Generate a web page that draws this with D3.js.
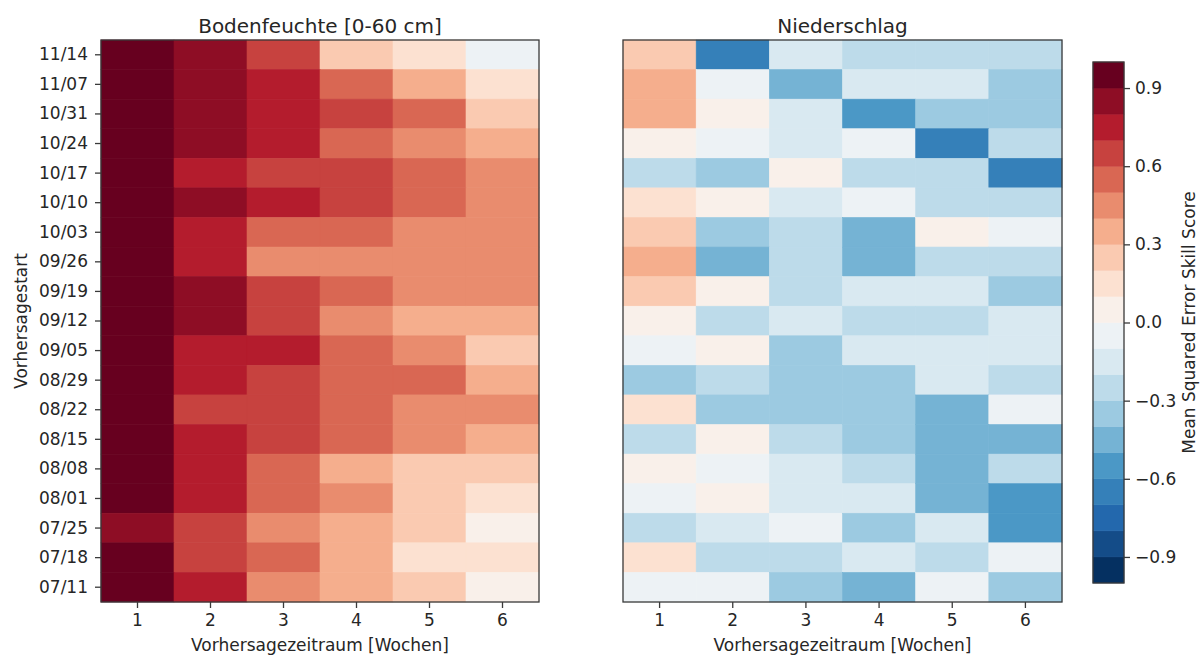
<!DOCTYPE html>
<html>
<head>
<meta charset="utf-8">
<script src="https://cdn.jsdelivr.net/npm/d3@7"></script>
<style>
  html, body { margin: 0; padding: 0; background: #fff; }
  svg text { font-family: "DejaVu Sans", sans-serif; fill: #262626; }
</style>
</head>
<body>
<svg id="chart" width="1201" height="657"></svg>
<script>
// ---------- DATA ----------
const startDates = ["11/14","11/07","10/31","10/24","10/17","10/10","10/03","09/26","09/19","09/12",
                    "09/05","08/29","08/22","08/15","08/08","08/01","07/25","07/18","07/11"];
const weeks = [1, 2, 3, 4, 5, 6];

// Bodenfeuchte [0-60 cm] – MSESS per start date (rows) and week (columns)
const soilMoisture = [
  [0.95, 0.85, 0.65, 0.25, 0.15, -0.05],
  [0.95, 0.85, 0.75, 0.55, 0.35, 0.15],
  [0.95, 0.85, 0.75, 0.65, 0.55, 0.25],
  [0.95, 0.85, 0.75, 0.55, 0.45, 0.35],
  [0.95, 0.75, 0.65, 0.65, 0.55, 0.45],
  [0.95, 0.85, 0.75, 0.65, 0.55, 0.45],
  [0.95, 0.75, 0.55, 0.55, 0.45, 0.45],
  [0.95, 0.75, 0.45, 0.45, 0.45, 0.45],
  [0.95, 0.85, 0.65, 0.55, 0.45, 0.45],
  [0.95, 0.85, 0.65, 0.45, 0.35, 0.35],
  [0.95, 0.75, 0.75, 0.55, 0.45, 0.25],
  [0.95, 0.75, 0.65, 0.55, 0.55, 0.35],
  [0.95, 0.65, 0.65, 0.55, 0.45, 0.45],
  [0.95, 0.75, 0.65, 0.55, 0.45, 0.35],
  [0.95, 0.75, 0.55, 0.35, 0.25, 0.25],
  [0.95, 0.75, 0.55, 0.45, 0.25, 0.15],
  [0.85, 0.65, 0.45, 0.35, 0.25, 0.05],
  [0.95, 0.65, 0.55, 0.35, 0.15, 0.15],
  [0.95, 0.75, 0.45, 0.35, 0.25, 0.05]
];

// Niederschlag – MSESS per start date (rows) and week (columns)
const precipitation = [
  [ 0.25, -0.65, -0.15, -0.25, -0.25, -0.25],
  [ 0.35, -0.05, -0.45, -0.15, -0.15, -0.35],
  [ 0.35,  0.05, -0.15, -0.55, -0.35, -0.35],
  [ 0.05, -0.05, -0.15, -0.05, -0.65, -0.25],
  [-0.25, -0.35,  0.05, -0.25, -0.25, -0.65],
  [ 0.15,  0.05, -0.15, -0.05, -0.25, -0.25],
  [ 0.25, -0.35, -0.25, -0.45,  0.05, -0.05],
  [ 0.35, -0.45, -0.25, -0.45, -0.25, -0.25],
  [ 0.25,  0.05, -0.25, -0.15, -0.15, -0.35],
  [ 0.05, -0.25, -0.15, -0.25, -0.25, -0.15],
  [-0.05,  0.05, -0.35, -0.15, -0.15, -0.15],
  [-0.35, -0.25, -0.35, -0.35, -0.15, -0.25],
  [ 0.15, -0.35, -0.35, -0.35, -0.45, -0.05],
  [-0.25,  0.05, -0.25, -0.35, -0.45, -0.45],
  [ 0.05, -0.05, -0.15, -0.25, -0.45, -0.25],
  [-0.05,  0.05, -0.15, -0.15, -0.45, -0.55],
  [-0.25, -0.15, -0.05, -0.35, -0.15, -0.55],
  [ 0.15, -0.25, -0.25, -0.15, -0.25, -0.05],
  [-0.05, -0.05, -0.35, -0.45, -0.05, -0.35]
];

const colorbarTicks = [0.9, 0.6, 0.3, 0.0, -0.3, -0.6, -0.9];
const panelTitles = ["Bodenfeuchte [0-60 cm]", "Niederschlag"];
const xLabel = "Vorhersagezeitraum [Wochen]";
const yLabel = "Vorhersagestart";
const cbLabel = "Mean Squared Error Skill Score";

// ---------- COLOR MAP (matplotlib RdBu_r, 20 levels) ----------
const rdbuAnchors = ['#67001f','#b2182b','#d6604d','#f4a582','#fddbc7','#f7f7f7',
                     '#d1e5f0','#92c5de','#4393c3','#2166ac','#053061'].reverse();
const baseCmap = d3.scaleLinear()
  .domain(d3.range(rdbuAnchors.length).map(i => i / (rdbuAnchors.length - 1)))
  .range(rdbuAnchors)
  .interpolate(d3.interpolateRgb);
const nLevels = 20;
const levelColors = d3.range(nLevels).map(i => baseCmap(i / (nLevels - 1)));
const color = d3.scaleQuantize().domain([-1, 1]).range(levelColors);

// ---------- LAYOUT ----------
const svg = d3.select("#chart");
const plotTop = 40, plotBottom = 602;
const panels = [
  { x0: 101, x1: 539, data: soilMoisture, title: panelTitles[0], showY: true },
  { x0: 623, x1: 1062, data: precipitation, title: panelTitles[1], showY: false }
];
const fontSize = 17;

const yScale = d3.scaleBand().domain(startDates).range([plotTop, plotBottom]).padding(0);

panels.forEach(p => {
  const x = d3.scaleBand().domain(weeks).range([p.x0, p.x1]).padding(0);
  const g = svg.append("g");

  const cells = [];
  p.data.forEach((row, ri) => row.forEach((v, ci) => cells.push({ d: startDates[ri], w: weeks[ci], v })));

  g.selectAll("rect.cell").data(cells).join("rect")
    .attr("class", "cell")
    .attr("x", d => x(d.w))
    .attr("y", d => yScale(d.d))
    .attr("width", x.bandwidth())
    .attr("height", yScale.bandwidth())
    .attr("fill", d => color(d.v))
    .attr("stroke", d => color(d.v))
    .attr("stroke-width", 0.6);

  // frame
  g.append("rect")
    .attr("x", p.x0).attr("y", plotTop)
    .attr("width", p.x1 - p.x0).attr("height", plotBottom - plotTop)
    .attr("fill", "none").attr("stroke", "#3a3a3a").attr("stroke-width", 1.3);

  // x axis
  const xAxis = g.append("g").attr("transform", `translate(0,${plotBottom})`)
    .call(d3.axisBottom(x).tickSize(6).tickPadding(6));
  xAxis.select(".domain").remove();
  xAxis.selectAll("line").attr("stroke", "#3a3a3a").attr("stroke-width", 1.3);
  xAxis.selectAll("text").style("font-size", fontSize + "px").attr("fill", "#262626");

  // y axis
  if (p.showY) {
    const yAxis = g.append("g").attr("transform", `translate(${p.x0},0)`)
      .call(d3.axisLeft(yScale).tickSize(6).tickPadding(7));
    yAxis.select(".domain").remove();
    yAxis.selectAll("line").attr("stroke", "#3a3a3a").attr("stroke-width", 1.3);
    yAxis.selectAll("text").style("font-size", fontSize + "px").attr("fill", "#262626");

    svg.append("text")
      .attr("transform", `translate(27,${(plotTop + plotBottom) / 2}) rotate(-90)`)
      .attr("text-anchor", "middle")
      .style("font-size", fontSize + "px")
      .text(yLabel);
  }

  // title
  svg.append("text")
    .attr("x", (p.x0 + p.x1) / 2).attr("y", 33)
    .attr("text-anchor", "middle")
    .style("font-size", "20px")
    .text(p.title);

  // x label
  svg.append("text")
    .attr("x", (p.x0 + p.x1) / 2).attr("y", 651)
    .attr("text-anchor", "middle")
    .style("font-size", fontSize + "px")
    .text(xLabel);
});

// ---------- COLORBAR ----------
const cbX0 = 1093, cbX1 = 1124, cbTop = 62, cbBottom = 583;
const cbScale = d3.scaleLinear().domain([-1, 1]).range([cbBottom, cbTop]);
const cb = svg.append("g");
const levelEdges = d3.range(nLevels).map(i => ({ lo: -1 + i * 2 / nLevels, hi: -1 + (i + 1) * 2 / nLevels, c: levelColors[i] }));
cb.selectAll("rect.lvl").data(levelEdges).join("rect")
  .attr("class", "lvl")
  .attr("x", cbX0)
  .attr("y", d => cbScale(d.hi))
  .attr("width", cbX1 - cbX0)
  .attr("height", d => cbScale(d.lo) - cbScale(d.hi))
  .attr("fill", d => d.c)
  .attr("stroke", d => d.c)
  .attr("stroke-width", 0.5);
cb.append("rect")
  .attr("x", cbX0).attr("y", cbTop)
  .attr("width", cbX1 - cbX0).attr("height", cbBottom - cbTop)
  .attr("fill", "none").attr("stroke", "#3a3a3a").attr("stroke-width", 1.3);

const cbAxis = cb.append("g").attr("transform", `translate(${cbX1},0)`)
  .call(d3.axisRight(cbScale).tickValues(colorbarTicks).tickSize(6).tickPadding(5)
    .tickFormat(v => d3.format(".1f")(v).replace("-", "\u2212")));
cbAxis.select(".domain").remove();
cbAxis.selectAll("line").attr("stroke", "#3a3a3a").attr("stroke-width", 1.3);
cbAxis.selectAll("text").style("font-size", fontSize + "px").attr("fill", "#262626");

svg.append("text")
  .attr("transform", `translate(1195,${(cbTop + cbBottom) / 2}) rotate(-90)`)
  .attr("text-anchor", "middle")
  .style("font-size", fontSize + "px")
  .text(cbLabel);
</script>
</body>
</html>
